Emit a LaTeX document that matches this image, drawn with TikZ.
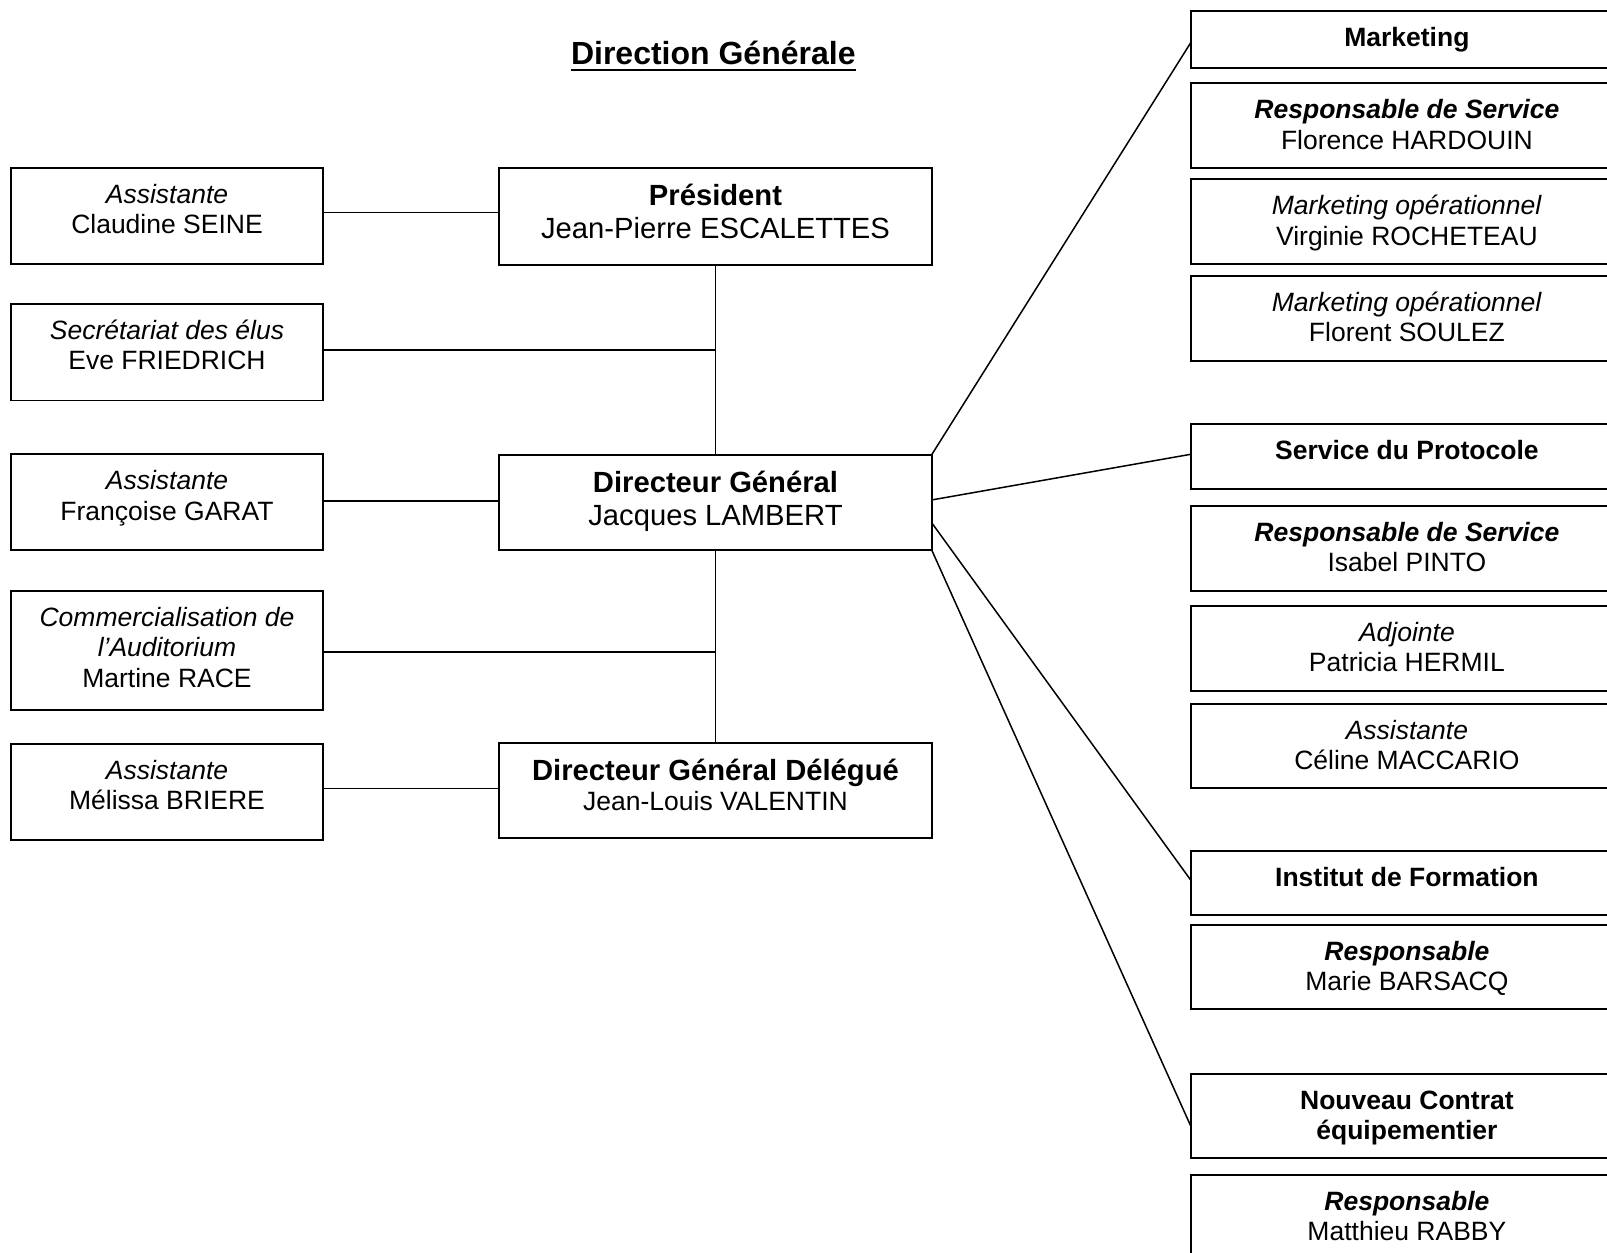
\documentclass[tikz,border=0pt]{standalone}
\usepackage{fontspec}
\setmainfont{Liberation Sans}
\newcommand\obox[5]{%
  \node[box, minimum width={(#4-#2)*0.5pt}, minimum height={(#5-#3)*0.5pt}] (#1) at ({(#2+#4)/2},{(#3+#5)/2}) {};}
\newcommand\otxt[4]{% name, center x, box top, text
  \node[txt] (#1) at (#2,{#3+11}) {\rule{0pt}{12pt}#4};}
\newcommand\ctxt[4]{% name, center x, box top, text (larger)
  \node[txt, font=\bigsz] (#1) at (#2,{#3+13}) {\rule{0pt}{12pt}#4};}
\newcommand\dtxt[4]{% name, center x, box top, text (larger first line)
  \node[txt] (#1) at (#2,{#3+13}) {\rule{0pt}{12pt}#4};}
\newcommand\bigsz{\fontsize{14.6}{16.8}\selectfont}
\begin{document}
\begin{tikzpicture}[x=0.5pt,y=-0.5pt,
  box/.style={draw, line width=0.9pt, inner sep=0pt, outer sep=0pt, rectangle},
  txt/.style={anchor=north, inner sep=0pt, align=center, font=\fontsize{13.25}{15.24}\selectfont},
  conn/.style={line width=0.75pt}]
\useasboundingbox (0,0) rectangle (1607,1253);
\clip (0,0) rectangle (1607,1253);
\fill[white] (0,0) rectangle (1607,1253);

% title
\node[font=\fontsize{16}{18.4}\selectfont\bfseries, inner sep=0pt, anchor=base] (title) at (713.3,64.3) {Direction Générale};
\draw[line width=1.1pt] ([yshift=-2.9pt]title.base west) -- ([yshift=-2.9pt]title.base east);

% left column
\obox{cl}{10.7}{167.7}{323.3}{264}
\otxt{clt}{167}{167.7}{\textit{Assistante}\\Claudine SEINE}
\obox{ev}{10.7}{304}{323.3}{400.5}
\otxt{evt}{167}{304}{\textit{Secrétariat des élus}\\Eve FRIEDRICH}
\obox{fg}{10.7}{454.3}{323.3}{550.3}
\otxt{fgt}{167}{454.3}{\textit{Assistante}\\Françoise GARAT}
\obox{mr}{10.7}{590.7}{323.3}{710}
\otxt{mrt}{167}{590.7}{\textit{Commercialisation de}\\\textit{l’Auditorium}\\Martine RACE}
\obox{mb}{10.7}{744}{323.3}{840}
\otxt{mbt}{167}{744}{\textit{Assistante}\\Mélissa BRIERE}

% centre column
\obox{pres}{499.3}{167.7}{931.7}{265}
\ctxt{prest}{715.5}{167.7}{\textbf{Président}\\Jean-Pierre ESCALETTES}
\obox{dg}{499.3}{454.7}{931.7}{550}
\ctxt{dgt}{715.5}{454.7}{\textbf{Directeur Général}\\Jacques LAMBERT}
\obox{dgd}{499.3}{742.7}{931.7}{838.3}
\dtxt{dgdt}{715.5}{742.7}{{\bigsz\textbf{Directeur Général Délégué}}\\Jean-Louis VALENTIN}

% right column
\obox{mk}{1190.7}{10.7}{1623.1}{68.3}
\otxt{mkt}{1406.9}{10.7}{\textbf{Marketing}}
\obox{fh}{1190.7}{83.3}{1623.1}{167.7}
\otxt{fht}{1406.9}{83.3}{\textbf{\textit{Responsable de Service}}\\Florence HARDOUIN}
\obox{vr}{1190.7}{179.3}{1623.1}{264.3}
\otxt{vrt}{1406.9}{179.3}{\textit{Marketing opérationnel}\\Virginie ROCHETEAU}
\obox{fs}{1190.7}{276}{1623.1}{361}
\otxt{fst}{1406.9}{276}{\textit{Marketing opérationnel}\\Florent SOULEZ}

\obox{pr}{1190.7}{424.3}{1623.1}{488.7}
\otxt{prt}{1406.9}{424.3}{\textbf{Service du Protocole}}
\obox{ip}{1190.7}{506}{1623.1}{590.7}
\otxt{ipt}{1406.9}{506}{\textbf{\textit{Responsable de Service}}\\Isabel PINTO}
\obox{ph}{1190.7}{606}{1623.1}{690.7}
\otxt{pht}{1406.9}{606}{\textit{Adjointe}\\Patricia HERMIL}
\obox{cm}{1190.7}{704}{1623.1}{788.3}
\otxt{cmt}{1406.9}{704}{\textit{Assistante}\\Céline MACCARIO}

\obox{inf}{1190.7}{850.7}{1623.1}{915}
\otxt{inft}{1406.9}{850.7}{\textbf{Institut de Formation}}
\obox{mba}{1190.7}{925}{1623.1}{1009.3}
\otxt{mbat}{1406.9}{925}{\textbf{\textit{Responsable}}\\Marie BARSACQ}

\obox{nc}{1190.7}{1074}{1623.1}{1158.3}
\otxt{nct}{1406.9}{1074}{\textbf{Nouveau Contrat}\\\textbf{équipementier}}
\obox{rab}{1190.7}{1175}{1623.1}{1259.5}
\otxt{rabt}{1406.9}{1175}{\textbf{\textit{Responsable}}\\Matthieu RABBY}

% connectors, left / centre
\draw[conn] ([yshift=2pt]pres.west) -- ([yshift=2pt]pres.west -| cl.east);
\draw[conn] (pres.south) -- (dg.north);
\draw[conn] (dg.south) -- (dgd.north);
\draw[conn] ([yshift=1.1pt]ev.east) -- ([yshift=1.1pt]ev.east -| pres.south);
\draw[conn] ([yshift=0.8pt]dg.west) -- ([yshift=0.8pt]dg.west -| fg.east);
\draw[conn] ([yshift=-0.8pt]mr.east) -- ([yshift=-0.8pt]mr.east -| dg.south);
\draw[conn] ([yshift=0.9pt]dgd.west) -- ([yshift=0.9pt]dgd.west -| mb.east);

% connectors, right
\draw[conn] (dg.north east) -- ([yshift=-1.6pt]mk.west);
\draw[conn] ([yshift=1.2pt]dg.east) -- ([yshift=1.1pt]pr.west);
\draw[conn] ([yshift=-10.2pt]dg.east) -- ([yshift=1.4pt]inf.west);
\draw[conn] (dg.south east) -- ([yshift=-4.9pt]nc.west);
\end{tikzpicture}
\end{document}
